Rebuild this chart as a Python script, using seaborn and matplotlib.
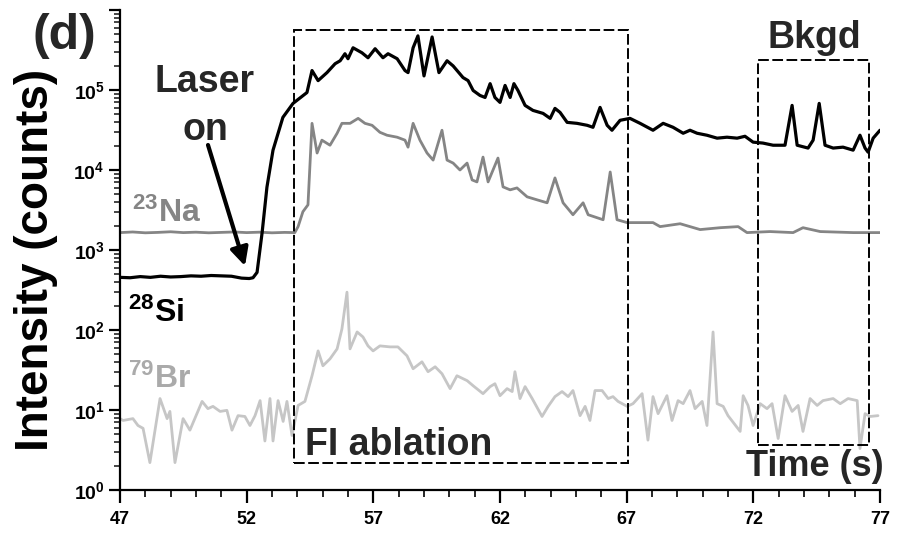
import numpy as np
import pandas as pd
import matplotlib
matplotlib.use("Agg")
import matplotlib.pyplot as plt
import matplotlib.ticker as mticker
from matplotlib.patches import Rectangle
import seaborn as sns

# ---- time-resolved LA-ICP-MS signals (counts per sweep) ----
si_time = [47.0, 47.4, 47.8, 48.2, 48.6, 49.0, 49.4, 49.8, 50.2, 50.6, 51.0, 51.4,
           51.8, 52.1, 52.25, 52.41, 52.61, 52.80, 53.04, 53.43, 53.83, 54.38, 54.58,
           54.82, 55.17, 55.49, 55.69, 55.88, 56.00, 56.20, 56.55, 56.79, 57.07, 57.38,
           57.58, 57.94, 58.25, 58.37, 58.57, 58.76, 59.00, 59.32, 59.59, 59.91, 60.15,
           60.54, 60.74, 60.94, 61.21, 61.41, 61.61, 61.80, 62.00, 62.20, 62.40, 62.55,
           62.71, 62.99, 63.30, 63.70, 63.98, 64.17, 64.37, 64.65, 65.04, 65.44, 65.67,
           65.95, 66.23, 66.42, 66.74, 67.13, 67.53, 68.04, 68.44, 68.83, 69.23, 69.50,
           69.78, 70.17, 70.57, 70.96, 71.36, 71.67, 71.99, 72.38, 72.78, 73.25, 73.53,
           73.73, 74.16, 74.36, 74.60, 74.83, 75.15, 75.54, 75.94, 76.21, 76.41, 76.53,
           76.73, 77.0]
si_counts = [455, 450, 465, 455, 470, 460, 465, 475, 470, 480, 475, 470,
             445, 440, 450, 525, 1650, 6100, 17700, 45500, 68000, 93000, 175000,
             131000, 165000, 213000, 232000, 284000, 246000, 337000, 292000, 253000, 328000, 253000,
             284000, 246000, 175000, 165000, 337000, 475000, 150000, 460000, 165000, 232000, 200000,
             143000, 131000, 98600, 85500, 80700, 120000, 80700, 70000, 114000, 80700, 120000,
             98600, 64200, 55600, 51000, 44200, 58900, 52500, 39400, 38300, 36200, 34200,
             60600, 36200, 31400, 41800, 44200, 38300, 31400, 38300, 34200, 28800, 31400,
             28800, 27200, 25000, 25700, 25000, 26400, 22300, 21700, 20400, 20400, 64200,
             20400, 18800, 23600, 68000, 20400, 18800, 19300, 17700, 27200, 18800, 16700,
             25000, 31400]

na_time = [47.0, 47.5, 48.0, 48.5, 49.0, 49.5, 50.0, 50.5, 51.0, 51.5, 52.0, 52.5,
           53.0, 53.5, 53.9, 54.03, 54.22, 54.42, 54.58, 54.78, 54.97, 55.29, 55.57,
           55.76, 56.08, 56.40, 56.67, 56.95, 57.26, 57.54, 57.94, 58.25, 58.37, 58.57,
           58.84, 59.12, 59.36, 59.71, 59.91, 60.15, 60.42, 60.70, 60.90, 61.09, 61.33,
           61.53, 61.92, 62.12, 62.40, 62.67, 63.07, 63.46, 63.86, 64.17, 64.49, 64.88,
           65.28, 65.48, 66.07, 66.35, 66.62, 67.02, 67.41, 68.04, 68.32, 69.11, 69.90,
           70.69, 71.40, 71.75, 72.66, 73.57, 73.96, 74.64, 75.94, 77.0]
na_counts = [1650, 1680, 1640, 1660, 1690, 1650, 1670, 1640, 1660, 1680, 1650, 1670,
             1640, 1660, 1650, 1960, 3010, 3670, 38300, 16300, 23600, 20400, 28800,
             38300, 38300, 44200, 38300, 36200, 29600, 27200, 25700, 23600, 19300, 38300,
             23600, 16300, 13300, 31400, 13300, 12200, 10000, 12200, 7510, 7100, 14500,
             7100, 14100, 6150, 5650, 5970, 4620, 4240, 3890, 7960, 3890, 2760,
             3890, 2760, 2390, 9440, 2390, 2200, 2200, 2200, 1960, 2130, 1800,
             1900, 1960, 1650, 1700, 1650, 1900, 1700, 1650, 1650]

br_time = [47.0, 47.12, 47.51, 47.71, 47.91, 48.18, 48.58, 48.86, 48.97, 49.17, 49.49,
           49.76, 50.24, 50.47, 50.67, 50.95, 51.22, 51.42, 51.66, 51.93, 52.13, 52.33,
           52.53, 52.72, 52.92, 53.04, 53.24, 53.44, 53.59, 53.79, 54.03, 54.30, 54.58,
           54.82, 55.01, 55.29, 55.57, 55.76, 55.96, 56.08, 56.36, 56.59, 56.79, 56.99,
           57.26, 57.66, 57.97, 58.33, 58.57, 58.92, 59.16, 59.44, 59.71, 60.03, 60.30,
           60.70, 60.94, 61.33, 61.61, 61.80, 62.00, 62.28, 62.48, 62.59, 62.79, 62.99,
           63.27, 63.66, 63.90, 64.17, 64.45, 64.69, 64.88, 65.16, 65.36, 65.55, 65.75,
           66.03, 66.27, 66.46, 66.66, 67.02, 67.25, 67.61, 67.84, 68.04, 68.24, 68.59,
           68.79, 69.03, 69.23, 69.50, 69.70, 69.98, 70.17, 70.41, 70.57, 70.81, 71.00,
           71.48, 71.60, 71.79, 71.99, 72.27, 72.54, 72.74, 72.98, 73.25, 73.53, 73.77,
           73.96, 74.24, 74.52, 74.75, 75.15, 75.43, 75.74, 76.10, 76.21, 76.41, 76.61,
           76.92]
br_counts = [7.8, 7.4, 7.8, 6.4, 5.9, 2.2, 13.9, 7.8, 9.6, 2.2, 7.8,
             5.6, 12.8, 10.4, 11.1, 9.6, 9.9, 5.6, 8.5, 8.3, 6.4, 8.5,
             13.1, 4.1, 13.9, 4.1, 13.1, 7.2, 12.8, 4.8, 11.4, 12.8, 26.8,
             54.8, 35.7, 43.6, 58.1, 103, 297, 58.1, 94.5, 81.9, 63.3, 54.8,
             63.3, 61.5, 61.5, 47.5, 32.8, 40.0, 30.1, 34.7, 28.4, 18.5, 26.8,
             23.3, 20.1, 16.0, 19.6, 21.3, 15.1, 18.5, 17.0, 30.1, 13.9, 19.6,
             13.9, 8.3, 11.1, 14.7, 17.0, 14.7, 17.5, 8.5, 11.1, 7.4, 17.5,
             17.5, 13.9, 14.7, 12.8, 11.1, 12.0, 16.0, 4.2, 14.7, 9.0, 15.1,
             7.4, 13.1, 12.0, 17.5, 10.4, 12.8, 6.4, 94.5, 12.0, 11.1, 8.5,
             5.4, 15.1, 11.4, 6.4, 12.0, 10.4, 12.0, 4.4, 15.1, 9.6, 11.4,
             5.4, 13.9, 11.4, 13.1, 13.9, 12.0, 13.9, 13.1, 3.3, 9.0, 8.3,
             8.5]

x_ticks = [47, 52, 57, 62, 67, 72, 77]

# ---- style ----
sns.set_theme(style="ticks")
plt.rcParams["font.family"] = ["Liberation Sans", "DejaVu Sans"]
plt.rcParams["font.weight"] = "bold"
plt.rcParams["mathtext.fontset"] = "custom"
plt.rcParams["mathtext.rm"] = "Liberation Sans:bold"
plt.rcParams["mathtext.bf"] = "Liberation Sans:bold"
plt.rcParams["mathtext.it"] = "Liberation Sans:bold"
plt.rcParams["mathtext.default"] = "rm"

W, H = 901, 536
fig = plt.figure(figsize=(W / 100, H / 100), dpi=100)
ax = fig.add_axes([120 / W, 1 - 490 / H, 760 / W, 480 / H])

C_SI, C_NA, C_BR = "#000000", "#858585", "#c6c6c6"

for t, c, col, lw in [(br_time, br_counts, C_BR, 2.0),
                      (na_time, na_counts, C_NA, 2.0),
                      (si_time, si_counts, C_SI, 2.3)]:
    df = pd.DataFrame({"time": t, "counts": c})
    sns.lineplot(data=df, x="time", y="counts", color=col, lw=lw,
                 estimator=None, sort=False, ax=ax)

ax.set_yscale("log")
ax.set_ylim(1, 1e6)
ax.set_xlim(47, 77)

# axes frame
sns.despine(ax=ax)
for s in ("left", "bottom"):
    ax.spines[s].set_linewidth(1.6)
    ax.spines[s].set_color("black")

ax.set_xticks(x_ticks)
ax.xaxis.set_minor_locator(mticker.MultipleLocator(1))
ax.yaxis.set_major_locator(mticker.FixedLocator([10.0 ** k for k in range(7)]))
ax.yaxis.set_minor_locator(mticker.LogLocator(base=10, subs=np.arange(2, 10), numticks=20))
ax.yaxis.set_minor_formatter(mticker.NullFormatter())
ax.yaxis.set_major_formatter(mticker.FuncFormatter(
    lambda v, p: r"$10^{%d}$" % round(np.log10(v)) if v < 5e5 else ""))

ax.tick_params(axis="x", which="major", direction="out", length=9, width=1.6,
               labelsize=13, pad=6, colors="black")
ax.tick_params(axis="x", which="minor", direction="out", length=5, width=1.4)
ax.tick_params(axis="y", which="major", direction="out", length=8, width=1.6,
               labelsize=14, pad=3, colors="black")
ax.tick_params(axis="y", which="minor", direction="out", length=4, width=1.2)
for lab in ax.get_xticklabels() + ax.get_yticklabels():
    lab.set_fontweight("bold")

ax.set_xlabel("")
ax.set_ylabel("Intensity (counts)", fontsize=33, fontweight="bold", color="black")
ax.yaxis.set_label_coords(-0.082, 0.48)

# region boxes
dash = (0, (5.5, 1.8))
ax.add_patch(Rectangle((53.87, 2.18), 67.05 - 53.87, 5.6e5 - 2.18, fill=False,
                       ec="black", lw=1.4, ls=dash, zorder=5))
ax.add_patch(Rectangle((72.19, 3.65), 76.57 - 72.19, 2.4e5 - 3.65, fill=False,
                       ec="black", lw=1.4, ls=dash, zorder=5))


def fpos(px, py):
    return px / W, 1 - py / H


fs = 27
fig.text(*fpos(64, 36), "(d)", fontsize=36, fontweight="bold", ha="center", va="center")
fig.text(*fpos(205, 92), "Laser", fontsize=fs, fontweight="bold", ha="center", va="baseline")
fig.text(*fpos(205, 140), "on", fontsize=fs, fontweight="bold", ha="center", va="baseline")
fig.text(*fpos(132, 222), r"$^{23}$Na", fontsize=23, fontweight="bold", color=C_NA,
         ha="left", va="baseline")
fig.text(*fpos(128, 322), r"$^{28}$Si", fontsize=23, fontweight="bold", color="black",
         ha="left", va="baseline")
fig.text(*fpos(128, 388), r"$^{79}$Br", fontsize=23, fontweight="bold", color="#aaaaaa",
         ha="left", va="baseline")
fig.text(*fpos(305, 455), "FI ablation", fontsize=fs, fontweight="bold", ha="left", va="baseline")
fig.text(*fpos(768, 48), "Bkgd", fontsize=fs, fontweight="bold", ha="left", va="baseline")
fig.text(*fpos(884, 476), "Time (s)", fontsize=26, fontweight="bold", ha="right", va="baseline")

# "Laser on" arrow
ax.annotate("", xy=(245, H - 266), xycoords="figure pixels",
            xytext=(208, H - 145), textcoords="figure pixels",
            arrowprops=dict(arrowstyle="-|>,head_length=0.9,head_width=0.45",
                            lw=3, color="black", shrinkA=0, shrinkB=0))

fig.savefig("out.png", dpi=100)
